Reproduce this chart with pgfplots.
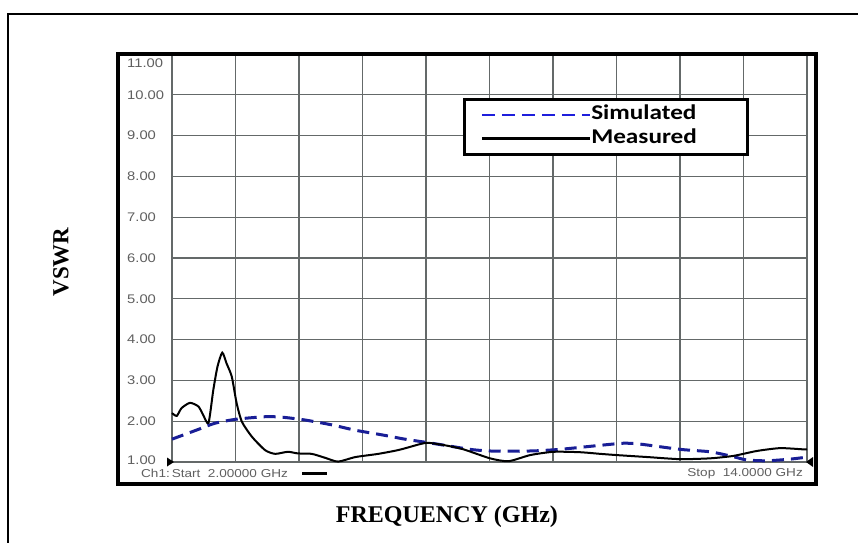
\documentclass[border=0pt]{standalone}
\usepackage{pgfplots}
\pgfplotsset{compat=1.18}
\usepackage{fontspec}
\setmainfont{Liberation Serif}
\newfontfamily\arialw[FakeStretch=1.18]{Liberation Sans}
\newfontfamily\calib[FakeStretch=1.2]{Carlito}
\definecolor{gridgray}{RGB}{100,105,105}
\definecolor{simblue}{RGB}{25,30,150}
\definecolor{legblue}{RGB}{30,30,220}
\definecolor{labgray}{RGB}{95,95,95}
\begin{document}
\begin{tikzpicture}[x=1pt,y=1pt]
\useasboundingbox (0,0) rectangle (858,542);
\draw[line width=2.5pt] (8,-20) -- (8,528) -- (880,528);
\begin{axis}[
  at={(172pt,80pt)}, anchor=south west,
  scale only axis, width=635pt, height=408pt,
  xmin=2, xmax=14, ymin=1, ymax=11,
  xtick={2,3.2,4.4,5.6,6.8,8,9.2,10.4,11.6,12.8,14},
  xticklabels={},
  ytick={1,2,...,10},
  yticklabels={\raisebox{3pt}{1.00},2.00,3.00,4.00,5.00,6.00,7.00,8.00,9.00,10.00},
  extra y ticks={11}, extra y tick labels={11.00},
  extra y tick style={yticklabel style={yshift=-9pt}},
  major tick length=0pt,
  grid=major,
  major grid style={draw=gridgray, line width=1.3pt},
  axis line style={draw=gridgray, line width=1.3pt},
  yticklabel style={anchor=west, xshift=-45pt, inner sep=0pt, font=\arialw\fontsize{12.5}{12.5}\selectfont, text=labgray},
  xlabel={FREQUENCY (GHz)},
  xlabel style={at={(axis description cs:0.433,-0.135)}, anchor=center, font=\bfseries\fontsize{24}{24}\selectfont},
  ylabel={VSWR},
  ylabel style={at={(axis description cs:-0.175,0.49)}, anchor=center, rotate=0, font=\bfseries\fontsize{23}{23}\selectfont},
  legend style={at={(axis cs:7.5,9.92)}, anchor=north west, draw=black, line width=2.5pt, fill=white,
    inner xsep=16pt, inner ysep=6pt, row sep=5pt, column sep=0pt,
    font=\calib\bfseries\fontsize{21}{21}\selectfont,
    nodes={inner xsep=0pt, inner ysep=0pt, text height=14pt, text depth=5pt, text width=140pt, text=black}},
  legend cell align=left,
  clip=false,
]
\addplot[simblue, line width=3pt, dash pattern=on 12pt off 7pt, smooth, tension=0.4,
  legend image code/.code={\draw[legblue, line width=2pt, dash pattern=on 13pt off 7pt] (0pt,0pt) -- (108pt,0pt);}]
coordinates {
(2,1.56) (2.5,1.80) (2.81,1.95) (3.22,2.05) (3.76,2.11) (4.07,2.10) (4.51,2.03)
(5.02,1.91) (5.46,1.78) (5.99,1.66) (6.4,1.56) (6.81,1.48) (7.25,1.39) (7.63,1.31)
(8.01,1.27) (8.77,1.27) (9.33,1.31) (10.1,1.41) (10.53,1.46) (10.84,1.44) (11.60,1.31)
(12.17,1.25) (12.61,1.13) (12.86,1.05) (13.24,1.03) (13.68,1.07) (14,1.12)
};
\addlegendentry{Simulated}
\addplot[black, line width=2pt, smooth, tension=0.4,
  legend image code/.code={\draw[black, line width=3pt] (0pt,0pt) -- (108pt,0pt);}]
coordinates {
(2,2.20) (2.09,2.13) (2.18,2.32) (2.34,2.45) (2.50,2.36) (2.59,2.15) (2.69,1.96)
(2.78,2.76) (2.86,3.34) (2.95,3.68) (3.03,3.42) (3.13,3.09) (3.22,2.45) (3.32,1.99)
(3.51,1.62) (3.76,1.29) (3.95,1.20) (4.19,1.25) (4.38,1.21) (4.64,1.20) (4.9,1.10)
(5.14,1.01) (5.46,1.12) (5.90,1.20) (6.3,1.30) (6.69,1.44) (6.85,1.47) (7.2,1.40)
(7.51,1.31) (8.01,1.09) (8.36,1.02) (8.77,1.17) (9.21,1.25) (9.71,1.24) (10.09,1.20)
(10.40,1.17) (11.0,1.12) (11.60,1.07) (12.17,1.09) (12.61,1.15) (13.05,1.27)
(13.49,1.34) (13.93,1.31) (14,1.31)
};
\addlegendentry{Measured}
\fill[black] (axis cs:2,1) ++(-5pt,4.5pt) -- ++(7pt,-4.5pt) -- ++(-7pt,-4.5pt) -- cycle;
\fill[black] (axis cs:14,1) ++(6pt,5pt) -- ++(-7pt,-5pt) -- ++(7pt,-5pt) -- cycle;
\end{axis}
\draw[line width=3.5pt] (118,58) rectangle (816,488);
\node[anchor=west, inner sep=0pt, text=labgray, font=\arialw\fontsize{11.5}{11.5}\selectfont] at (141,69) {Ch1:\,Start\ \ 2.00000 GHz};
\draw[line width=3pt] (302,69) -- (327,69);
\node[anchor=east, inner sep=0pt, text=labgray, font=\arialw\fontsize{11.5}{11.5}\selectfont] at (803,68) {Stop\ \ 14.0000 GHz};
\end{tikzpicture}
\end{document}
